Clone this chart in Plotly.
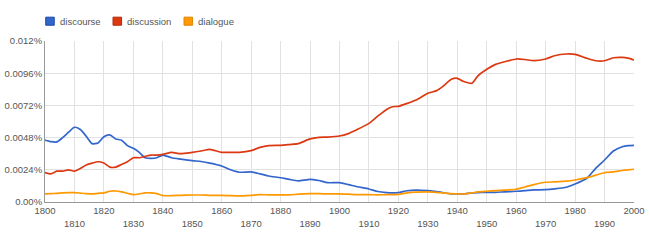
import plotly.graph_objects as go

years = [1800,1802,1804,1806,1808,1810,1812,1814,1816,1818,1820,1822,1824,1826,1828,1830,1832,1834,1836,1838,
         1840,1843,1846,1850,1853,1856,1860,1863,1866,1870,1873,1876,1880,1883,1886,1890,1893,1896,1900,1903,
         1906,1910,1913,1916,1918,1920,1923,1926,1930,1933,1935,1938,1940,1942,1945,1947,1950,1953,1956,1960,
         1963,1966,1970,1973,1977,1980,1984,1987,1990,1993,1996,1998,2000]

discourse = [0.00462,0.0045,0.00448,0.0048,0.0052,0.00557,0.0054,0.0049,0.00435,0.0044,0.00487,0.005,0.0047,0.0046,0.0042,0.0040,0.0037,0.0033,0.00325,0.0033,
             0.0035,0.0033,0.0032,0.00308,0.00302,0.0029,0.00268,0.0024,0.00222,0.00224,0.0021,0.00194,0.00181,0.00168,0.00157,0.00169,0.0016,0.00144,0.00144,0.0013,
             0.00114,0.00097,0.00078,0.0007,0.00068,0.0007,0.00084,0.00089,0.00085,0.00078,0.0007,0.0006,0.0006,0.0006,0.00068,0.0007,0.00072,0.00072,0.00076,0.0008,
             0.00085,0.0009,0.00092,0.00098,0.0011,0.00134,0.00177,0.00251,0.00313,0.0038,0.00412,0.0042,0.00422]

discussion = [0.00219,0.0021,0.0023,0.0023,0.0024,0.0023,0.0025,0.00276,0.0029,0.003,0.0029,0.0026,0.0026,0.0028,0.003,0.0033,0.0033,0.0034,0.0035,0.0035,
              0.00355,0.0037,0.0036,0.0037,0.0038,0.00392,0.0037,0.0037,0.0037,0.00383,0.00407,0.0042,0.00422,0.00428,0.00435,0.0047,0.00482,0.00484,0.00492,0.0051,
              0.0054,0.00586,0.0064,0.0069,0.0071,0.00713,0.00735,0.0076,0.0081,0.0083,0.0086,0.00915,0.00922,0.0090,0.00885,0.0094,0.00989,0.01026,0.01045,0.01066,
              0.01062,0.01053,0.01066,0.0109,0.01103,0.011,0.01071,0.01053,0.01053,0.01075,0.01078,0.01072,0.01058]

dialogue = [0.0006,0.00062,0.00065,0.00068,0.0007,0.0007,0.00066,0.00062,0.0006,0.00065,0.00068,0.0008,0.00082,0.00075,0.00065,0.00055,0.0006,0.00068,0.00068,0.00062,
            0.00048,0.00047,0.0005,0.00052,0.00052,0.0005,0.0005,0.00047,0.00045,0.0005,0.00055,0.00053,0.00053,0.00053,0.00058,0.00062,0.00062,0.0006,0.0006,0.00058,
            0.00055,0.00055,0.00053,0.00055,0.00055,0.00057,0.00068,0.00073,0.00075,0.00072,0.00068,0.00062,0.0006,0.0006,0.00068,0.00075,0.0008,0.00085,0.00088,0.00095,
            0.00112,0.0013,0.00147,0.0015,0.00155,0.00164,0.00182,0.002,0.00218,0.00225,0.00235,0.0024,0.00244]

series_names = ["discourse", "discussion", "dialogue"]
series_colors = ["#3366cc", "#dc3912", "#ff9900"]
series_border = ["#1d4aa8", "#b02a0a", "#e08600"]

x_tick_vals = [1800,1810,1820,1830,1840,1850,1860,1870,1880,1890,1900,1910,1920,1930,1940,1950,1960,1970,1980,1990,2000]
x_tick_text = ["1800","<br>1810","1820","<br>1830","1840","<br>1850","1860","<br>1870","1880","<br>1890","1900",
               "<br>1910","1920","<br>1930","1940","<br>1950","1960","<br>1970","1980","<br>1990","2000"]
y_tick_vals = [0, 0.0024, 0.0048, 0.0072, 0.0096, 0.012]
y_tick_text = ["0.00%", "0.0024%", "0.0048%", "0.0072%", "0.0096%", "0.012%"]

FONT = "Liberation Sans, Arial, sans-serif"
TXT = "#555555"

fig = go.Figure()
for name, vals, col in zip(series_names, [discourse, discussion, dialogue], series_colors):
    fig.add_trace(go.Scatter(x=years, y=vals, mode="lines", name=name,
                             line=dict(color=col, width=1.7, shape="spline", smoothing=0.6),
                             showlegend=False, hoverinfo="skip"))

# custom legend (square swatches + labels)
legend_x = [0.0012, 0.1155, 0.236]
for lx, name, col, bcol in zip(legend_x, series_names, series_colors, series_border):
    fig.add_shape(type="rect", xref="paper", yref="paper",
                  x0=lx, x1=lx + 0.0145, y0=1.098, y1=1.148,
                  fillcolor=col, line=dict(color=bcol, width=1))
    fig.add_annotation(x=lx + 0.0205, y=1.123, xref="paper", yref="paper",
                       text=name, showarrow=False, xanchor="left", yanchor="middle",
                       font=dict(family=FONT, size=9.5, color=TXT))

fig.update_layout(
    width=650, height=241,
    margin=dict(l=45, r=16, t=41, b=39, autoexpand=False),
    paper_bgcolor="white", plot_bgcolor="white",
    font=dict(family=FONT, size=9.5, color=TXT),
    xaxis=dict(range=[1800, 2000], tickvals=x_tick_vals, ticktext=x_tick_text,
               showgrid=True, gridcolor="#e2e2e2", gridwidth=1, automargin=False,
               showline=True, linecolor="#999999", linewidth=1,
               ticks="", zeroline=False, tickfont=dict(size=9.5, color=TXT)),
    yaxis=dict(range=[0, 0.012], tickvals=y_tick_vals, ticktext=y_tick_text,
               showgrid=True, gridcolor="#e2e2e2", gridwidth=1, automargin=False,
               showline=True, linecolor="#999999", linewidth=1,
               ticks="", zeroline=False, tickfont=dict(size=9.5, color=TXT)),
)

fig.write_html("out.html")
